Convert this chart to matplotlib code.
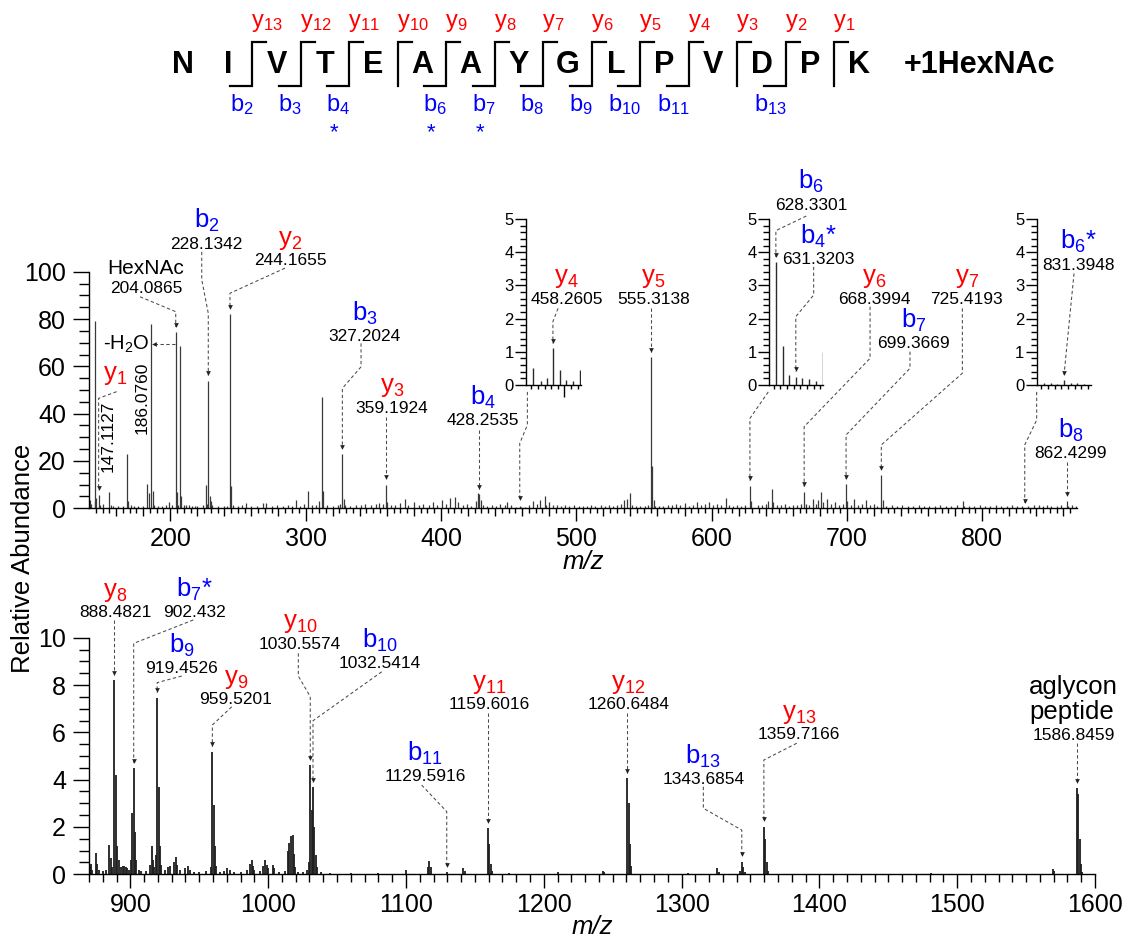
import numpy as np
import matplotlib
matplotlib.use("Agg")
import matplotlib.pyplot as plt
from matplotlib.ticker import MultipleLocator, FixedLocator, NullFormatter
from matplotlib.transforms import offset_copy

plt.rcParams["font.family"] = ["Liberation Sans", "DejaVu Sans"]
plt.rcParams["mathtext.fontset"] = "custom"
plt.rcParams["mathtext.rm"] = "Liberation Sans"
plt.rcParams["mathtext.it"] = "Liberation Sans:italic"
plt.rcParams["mathtext.bf"] = "Liberation Sans:bold"

# ---------------------------------------------------------------- data
sequence = list("NIVTEAAYGLPVDPK")
b_ions = [2, 3, 4, 6, 7, 8, 9, 10, 11, 13]
b_glyco = [4, 6, 7]
y_ions = [1, 2, 3, 4, 5, 6, 7, 8, 9, 10, 11, 12, 13]
glycan_tag = "+1HexNAc"

# low mass range (m/z 140-870), unlabelled peaks
top_mz = [140.5, 141.3, 144.07, 144.6, 145.1, 148.1, 150.5, 155.08, 156.1, 158.0,
          161.1, 165.0, 168.07, 169.07, 171.0, 173.0, 176.0, 180.0, 183.08, 184.08,
          187.08, 188.1, 191.0, 194.0, 197.0, 199.1, 201.1, 205.09, 206.1, 207.1,
          208.1, 210.0, 212.0, 214.0, 216.0, 218.0, 220.0, 224.0, 226.1, 227.1,
          229.13, 230.1, 231.0, 235.0, 240.0, 242.0, 245.17, 246.2, 250.0, 253.0,
          256.0, 260.0, 264.0, 268.3, 271.0, 275.0, 279.0, 283.0, 287.0, 290.0,
          292.7, 296.0, 299.0, 302.1, 305.0, 308.0, 310.2, 312.2, 313.2, 316.0,
          320.0, 324.0, 325.2, 328.2, 329.2, 333.0, 337.0, 341.0, 344.0, 348.0,
          352.0, 354.3, 357.0, 360.2, 363.0, 366.0, 370.0, 373.6, 376.0, 380.0,
          384.0, 387.0, 391.0, 394.0, 397.0, 400.7, 404.0, 407.0, 410.4, 413.0,
          416.0, 419.0, 422.0, 426.2, 427.2, 429.3, 431.0, 434.0, 438.0, 441.0,
          444.0, 447.0, 448.5, 452.0, 455.3, 457.3, 459.26, 460.3, 462.3, 465.0,
          468.4, 471.0, 473.4, 476.6, 478.0, 480.0, 483.0, 486.0, 489.0, 492.0,
          495.0, 498.0, 502.0, 505.0, 508.0, 511.0, 514.0, 518.0, 521.0, 524.0,
          527.0, 530.0, 533.0, 535.3, 537.3, 539.8, 541.0, 544.0, 547.0, 551.0,
          553.0, 556.31, 557.3, 558.3, 561.0, 564.0, 568.0, 571.0, 574.0, 577.0,
          580.0, 583.0, 586.0, 589.0, 592.0, 595.0, 598.0, 601.0, 604.0, 607.0,
          610.3, 613.0, 616.0, 619.0, 622.0, 625.0, 629.33, 631.32, 634.0, 637.0,
          640.0, 642.0, 644.3, 645.6, 648.0, 651.0, 654.0, 657.0, 660.0, 663.0,
          666.0, 669.4, 672.0, 675.0, 677.0, 679.0, 680.8, 682.0, 685.0, 688.0,
          691.0, 694.0, 697.0, 700.4, 703.0, 705.0, 708.0, 711.0, 714.0, 717.0,
          720.0, 722.0, 726.4, 729.0, 733.0, 737.0, 741.0, 745.0, 749.0, 753.0,
          757.0, 761.0, 765.0, 769.0, 773.0, 777.0, 781.0, 785.7, 786.7, 790.0,
          794.0, 798.0, 802.0, 806.0, 810.0, 814.0, 818.0, 822.0, 826.0, 829.0,
          834.0, 838.0, 842.0, 845.0, 848.0, 851.0, 855.0, 858.0, 863.4, 866.0,
          869.0]
top_int = [3.5, 2.0, 79.0, 3.0, 4.5, 1.5, 2.0, 6.8, 1.2, 1.0,
           0.8, 1.0, 23.0, 3.0, 1.2, 0.8, 1.0, 0.8, 10.2, 6.6,
           7.2, 1.5, 1.0, 0.8, 1.2, 2.5, 1.5, 7.0, 1.5, 68.5,
           5.0, 1.5, 1.2, 1.2, 0.8, 1.0, 0.8, 1.2, 9.8, 2.0,
           5.2, 3.0, 1.5, 1.0, 0.8, 1.0, 9.5, 1.2, 0.8, 1.5,
           2.2, 1.0, 0.8, 2.1, 2.3, 1.0, 1.5, 1.0, 1.2, 0.8,
           3.6, 1.0, 2.0, 7.2, 1.2, 1.5, 3.0, 47.2, 7.2, 1.2,
           1.0, 1.2, 2.0, 3.8, 1.5, 1.0, 1.5, 1.2, 2.0, 1.5,
           1.8, 2.4, 2.0, 2.5, 1.2, 1.5, 2.2, 4.0, 1.5, 2.5,
           1.5, 2.0, 1.2, 2.5, 1.5, 3.5, 1.8, 4.2, 4.6, 2.5,
           1.5, 2.0, 1.0, 3.0, 6.6, 3.5, 1.2, 1.0, 1.5, 1.0,
           2.0, 1.2, 2.8, 1.5, 0.5, 0.2, 0.45, 0.15, 0.45, 1.2,
           3.0, 2.0, 3.4, 5.3, 1.5, 2.5, 1.5, 1.2, 1.0, 1.5,
           0.8, 1.2, 1.0, 1.0, 0.8, 1.5, 1.0, 1.2, 0.8, 1.5,
           1.0, 1.2, 2.0, 3.5, 4.0, 6.3, 1.5, 1.0, 0.8, 1.0,
           1.2, 18.0, 3.5, 1.0, 1.0, 0.8, 1.5, 1.2, 2.0, 1.5,
           2.2, 1.0, 1.5, 2.5, 1.2, 1.8, 2.5, 1.2, 2.0, 1.5,
           4.2, 1.5, 1.0, 1.5, 1.0, 1.2, 3.0, 0.3, 1.2, 1.5,
           2.0, 3.0, 8.2, 2.5, 1.5, 1.2, 2.0, 1.0, 1.5, 1.2,
           2.0, 2.0, 1.5, 4.0, 2.0, 3.5, 7.0, 2.5, 4.0, 2.0,
           2.5, 1.5, 2.0, 3.0, 1.5, 4.0, 1.5, 2.0, 3.5, 1.5,
           2.0, 1.0, 3.5, 1.0, 1.2, 0.8, 1.2, 1.0, 1.0, 1.2,
           0.8, 1.0, 0.8, 1.2, 1.0, 0.8, 1.2, 3.0, 1.0, 0.8,
           1.0, 1.5, 0.8, 1.0, 1.5, 1.0, 0.8, 1.2, 1.0, 0.8,
           1.0, 1.2, 1.5, 1.0, 1.5, 0.8, 1.0, 1.2, 1.0, 1.5,
           0.8]

# low mass range, assigned peaks
top_ion_names = ["y1", "-H2O", "HexNAc", "b2", "y2", "b3", "y3", "b4", "y4",
                 "y5", "b6", "y6", "b7", "y7", "b6*", "b8"]
top_ion_mz = ["147.1127", "186.0760", "204.0865", "228.1342", "244.1655",
              "327.2024", "359.1924", "428.2535", "458.2605", "555.3138",
              "628.3301", "668.3994", "699.3669", "725.4193", "831.3948",
              "862.4299"]
top_ion_int = [5.5, 78.0, 74.5, 54.0, 82.2, 23.0, 10.0, 6.0, 1.1,
               64.0, 9.6, 7.0, 10.2, 14.0, 0.2, 3.0]

# high mass range (m/z 870-1600), unlabelled peaks
bot_mz = [870.5, 871.5, 872.5, 875.1, 876.1, 877.0, 880.0, 882.0, 884.8, 885.8,
          887.0, 889.48, 890.5, 891.5, 893.0, 894.5, 895.5, 896.5, 897.5, 899.0,
          900.4, 901.4, 903.4, 904.4, 906.0, 908.0, 911.0, 914.0, 915.5, 916.4,
          917.5, 918.5, 920.45, 921.5, 922.5, 925.0, 927.0, 929.0, 931.5, 933.0,
          934.0, 936.0, 940.0, 941.5, 943.0, 946.0, 950.0, 955.0, 958.5, 960.52,
          961.5, 962.5, 965.0, 968.0, 970.0, 972.0, 975.0, 980.0, 985.0, 987.0,
          988.2, 989.2, 990.0, 994.0, 996.0, 997.9, 999.0, 1000.0, 1003.5, 1004.5,
          1008.0, 1012.0, 1014.4, 1015.4, 1016.6, 1017.8, 1018.8, 1019.8, 1022.0, 1025.0,
          1028.0, 1029.5, 1031.56, 1033.54, 1034.5, 1035.5, 1038.0, 1045.0, 1060.0, 1080.0,
          1100.0, 1116.0, 1116.9, 1117.9, 1141.5, 1142.5, 1160.6, 1161.6, 1162.6, 1175.0,
          1210.0, 1243.0, 1244.0, 1261.65, 1262.65, 1263.6, 1305.0, 1326.0, 1327.0, 1342.7,
          1344.7, 1345.7, 1360.72, 1361.7, 1362.7, 1481.0, 1569.5, 1570.5, 1587.85, 1588.85,
          1589.85, 1590.8]
bot_int = [0.3, 0.45, 0.2, 0.9, 0.45, 0.2, 0.15, 0.2, 1.23, 0.7,
           0.3, 4.2, 1.2, 0.6, 0.3, 0.35, 0.35, 0.3, 0.25, 0.2,
           0.6, 2.6, 1.8, 0.6, 0.2, 0.15, 0.15, 0.4, 1.2, 0.6,
           0.3, 0.8, 3.7, 1.2, 0.4, 0.2, 0.3, 0.35, 0.5, 0.75,
           0.4, 0.2, 0.25, 0.35, 0.2, 0.1, 0.1, 0.15, 0.3, 2.93,
           1.2, 0.35, 0.1, 0.15, 0.25, 0.2, 0.1, 0.1, 0.2, 0.45,
           0.6, 0.35, 0.2, 0.15, 0.35, 0.6, 0.4, 0.25, 0.4, 0.25,
           0.1, 0.15, 1.0, 1.31, 1.6, 1.65, 0.85, 0.3, 0.1, 0.1,
           0.2, 0.5, 2.7, 2.0, 0.8, 0.3, 0.1, 0.05, 0.05, 0.05,
           0.2, 0.3, 0.55, 0.3, 0.25, 0.15, 1.3, 0.45, 0.15, 0.05,
           0.1, 0.15, 0.08, 3.0, 1.3, 0.35, 0.05, 0.25, 0.1, 0.15,
           0.3, 0.1, 1.5, 0.5, 0.15, 0.05, 0.21, 0.12, 3.4, 1.5,
           0.45, 0.1]

# high mass range, assigned peaks
bot_ion_names = ["y8", "b7*", "b9", "y9", "y10", "b10", "b11", "y11", "y12",
                 "b13", "y13", "aglycon"]
bot_ion_mz = ["888.4821", "902.432", "919.4526", "959.5201", "1030.5574",
              "1032.5414", "1129.5916", "1159.6016", "1260.6484", "1343.6854",
              "1359.7166", "1586.8459"]
bot_ion_int = [8.2, 4.5, 7.46, 5.18, 4.62, 3.67, 0.1, 1.95, 4.06, 0.53, 2.01, 3.63]

# expanded windows (0-5 % scale)
inset_ranges = [(454.2, 462.5), (627.3, 635.4), (827.3, 835.4)]
inset1_mz = [455.3, 456.4, 457.3, 458.2605, 459.26, 460.3, 461.3, 462.4]
inset1_int = [0.5, 0.12, 0.22, 1.1, 0.45, 0.15, 0.12, 0.45]
inset2_mz = [628.3301, 629.33, 630.33, 631.3203, 632.3, 633.3, 634.3, 635.33]
inset2_int = [3.7, 1.17, 0.3, 0.25, 0.2, 0.18, 0.12, 1.0]
inset3_mz = [828.4, 829.4, 830.4, 831.3948, 832.4, 833.4, 834.4]
inset3_int = [0.05, 0.06, 0.04, 0.15, 0.06, 0.05, 0.04]
inset_ions = [[("y4", "458.2605")],
              [("b6", "628.3301"), ("b4*", "631.3203")],
              [("b6*", "831.3948")]]

# ---------------------------------------------------------------- styles
RED = "#ff0000"
BLUE = "#0000ff"
LEAD = "#4a4a4a"
ION_FS = 18.5
VAL_FS = 12.5
TICK_FS = 18
HDR_FS = 17

W, H = 1130, 942
fig = plt.figure(figsize=(W / 100, H / 100), dpi=100)
fig.patch.set_facecolor("white")


def box(left, top, right, bottom):
    return [left / W, 1 - bottom / H, (right - left) / W, (bottom - top) / H]


page = fig.add_axes([0, 0, 1, 1], zorder=-5)
page.set_xlim(0, W)
page.set_ylim(H, 0)
page.axis("off")

ax_top = fig.add_axes(box(89, 271.7, 1077, 508.3))
ax_bot = fig.add_axes(box(89, 637.7, 1095, 874.3))
insets = [fig.add_axes(box(526, 219, 581, 385)),
          fig.add_axes(box(769, 219, 823, 385)),
          fig.add_axes(box(1036.7, 219, 1090.7, 385))]


def plain(ax):
    ax.patch.set_visible(False)
    for s in ("top", "right"):
        ax.spines[s].set_visible(False)
    for s in ("left", "bottom"):
        ax.spines[s].set_linewidth(1.0)


def ion_tex(name):
    kind, rest = name[0], name[1:]
    star = rest.endswith("*")
    return r"$\mathregular{%s_{%s}}$" % (kind, rest.rstrip("*")) + ("*" if star else "")


def ion_color(name):
    return BLUE if name[0] == "b" else RED


def leader(ax, path, x_peak, h_peak):
    ppu = ax.get_position().height * H / (ax.get_ylim()[1] - ax.get_ylim()[0])
    tip = h_peak + 5.0 / ppu
    xs = [x_peak if p[0] is None else p[0] for p in path] + [x_peak]
    ys = [p[1] for p in path] + [tip]
    ax.plot(xs, ys, color=LEAD, lw=0.75, ls=(0, (3.2, 2.4)), clip_on=False, zorder=4)
    head = offset_copy(ax.transData, fig=fig, x=0, y=2.3, units="dots")
    ax.plot([x_peak], [tip], marker="v", ms=3.4, color="#222222", mew=0,
            transform=head, clip_on=False, zorder=5)


def label(ax, name, value, at):
    ax.text(at[0], at[1], value, ha="center", va="center", fontsize=VAL_FS, zorder=6)
    ax.annotate(ion_tex(name), xy=at, xytext=(0, 16), textcoords="offset pixels",
                ha="center", va="baseline", fontsize=ION_FS, color=ion_color(name),
                annotation_clip=False, zorder=6)


# ---------------------------------------------------------------- header
seq_x = [183] + [228 + 48.5 * i for i in range(len(sequence) - 1)]
for ch, x in zip(sequence, seq_x):
    page.text(x, 73, ch, ha="center", va="baseline", fontsize=22, fontweight="bold")
page.text(904, 73, glycan_tag, ha="left", va="baseline", fontsize=22, fontweight="bold")

n_res = len(sequence)
for k in range(1, n_res):
    has_b = k in b_ions
    has_y = (n_res - k) in y_ions
    if not (has_b or has_y):
        continue
    cx = (seq_x[k - 1] + seq_x[k]) / 2
    xs, ys = [cx, cx], [86, 41.5]
    if has_b:
        xs, ys = [cx - 22] + xs, [86] + ys
        page.text(cx + 1, 111, ion_tex("b%d" % k), ha="right", va="baseline",
                  fontsize=HDR_FS, color=BLUE)
        if k in b_glyco:
            page.text(cx - 15, 138, "*", ha="center", va="baseline", fontsize=16, color=BLUE)
    if has_y:
        xs, ys = xs + [cx + 14], ys + [41.5]
        page.text(cx - 1, 27.5, ion_tex("y%d" % (n_res - k)), ha="left", va="baseline",
                  fontsize=HDR_FS, color=RED)
    page.plot(xs, ys, color="black", lw=1.6, solid_joinstyle="miter")

# ---------------------------------------------------------------- spectra
plain(ax_top)
top_all_mz = np.r_[top_mz, [float(v) for v in top_ion_mz]]
top_all_int = np.r_[top_int, top_ion_int]
ax_top.vlines(top_all_mz, 0, top_all_int, colors="#3a3a3a", lw=0.9)
ax_top.set_xlim(140, 870)
ax_top.set_ylim(0, 100)
ax_top.xaxis.set_major_locator(MultipleLocator(100))
ax_top.xaxis.set_minor_locator(FixedLocator([v for v in range(160, 870, 20) if v % 100]))
ax_top.yaxis.set_major_locator(MultipleLocator(20))
ax_top.yaxis.set_minor_locator(MultipleLocator(5))
ax_top.tick_params(axis="x", which="major", length=9.5, width=1.0, pad=4, labelsize=TICK_FS)
ax_top.tick_params(axis="x", which="minor", length=5.8, width=1.0)
ax_top.tick_params(axis="y", which="major", length=11.5, width=1.0, pad=5, labelsize=TICK_FS)
ax_top.tick_params(axis="y", which="minor", length=7, width=1.0)
small = [v for v in range(145, 870, 5) if v % 20]
ax_top.vlines(small, 0, -4.2 / 236.6, colors="black", lw=1.0,
              transform=ax_top.get_xaxis_transform(), clip_on=False)

plain(ax_bot)
bot_all_mz = np.r_[bot_mz, [float(v) for v in bot_ion_mz]]
bot_all_int = np.r_[bot_int, bot_ion_int]
ax_bot.vlines(bot_all_mz, 0, bot_all_int, colors="#1e1e1e", lw=1.3)
ax_bot.set_xlim(870, 1600)
ax_bot.set_ylim(0, 10)
ax_bot.xaxis.set_major_locator(MultipleLocator(100))
ax_bot.xaxis.set_minor_locator(MultipleLocator(10))
ax_bot.yaxis.set_major_locator(MultipleLocator(2))
ax_bot.yaxis.set_minor_locator(MultipleLocator(0.5))
ax_bot.tick_params(axis="x", which="major", length=10, width=1.0, pad=3.5, labelsize=TICK_FS)
ax_bot.tick_params(axis="x", which="minor", length=6, width=1.0)
ax_bot.tick_params(axis="y", which="major", length=11.5, width=1.0, pad=5, labelsize=TICK_FS)
ax_bot.tick_params(axis="y", which="minor", length=7, width=1.0)

inset_data = [(inset1_mz, inset1_int), (inset2_mz, inset2_int), (inset3_mz, inset3_int)]
for ax, (mz, inten), rng in zip(insets, inset_data, inset_ranges):
    plain(ax)
    ax.vlines(mz, 0, inten, colors="#2a2a2a", lw=1.0)
    ax.set_xlim(*rng)
    ax.set_ylim(0, 5)
    ax.yaxis.set_major_locator(MultipleLocator(1))
    ax.yaxis.set_minor_locator(MultipleLocator(0.2))
    ax.xaxis.set_minor_locator(MultipleLocator(1))
    ax.xaxis.set_major_formatter(NullFormatter())
    ax.tick_params(axis="y", which="major", length=8, width=1.0, pad=0.8, labelsize=12)
    ax.tick_params(axis="y", which="minor", length=4.3, width=1.0)
    ax.tick_params(axis="x", which="major", length=8.5, width=1.0)
    ax.tick_params(axis="x", which="minor", length=3, width=1.0)
insets[0].xaxis.set_major_locator(FixedLocator([460]))
insets[1].xaxis.set_major_locator(FixedLocator([]))
insets[2].xaxis.set_major_locator(FixedLocator([]))

# ---------------------------------------------------------------- annotations
top_h = dict(zip(top_ion_mz, top_ion_int))
top_n = dict(zip(top_ion_names, top_ion_mz))

top_layout = {
    "b2": dict(at=(227.0, 111.7), path=[(223.3, 108.4), (223.3, 96.6), (None, 82.4)]),
    "y2": dict(at=(288.5, 104.6), path=[(284.8, 101.5), (None, 90.9)]),
    "b3": dict(at=(343.9, 72.5), path=[(341.0, 69.7), (341.0, 59.8), (None, 50.7)]),
    "y3": dict(at=(363.7, 42.3), path=[(None, 38.7)]),
    "b4": dict(at=(430.9, 36.9), path=[(None, 33.1)]),
    "y5": dict(at=(557.0, 88.3), path=[(None, 84.5)]),
    "y6": dict(at=(720.0, 88.3), path=[(717.1, 85.2), (717.1, 63.4), (None, 34.5)]),
    "b7": dict(at=(749.1, 69.7), path=[(746.6, 66.2), (746.6, 59.2), (None, 31.0)]),
    "y7": dict(at=(788.5, 88.3), path=[(785.3, 84.5), (785.3, 57.1), (None, 26.8)]),
    "b8": dict(at=(865.4, 23.2), path=[(None, 19.7)]),
}
for name, lay in top_layout.items():
    v = top_n[name]
    label(ax_top, name, v, lay["at"])
    leader(ax_top, lay["path"], float(v), top_h[v])

# y1 with rotated value
v = top_n["y1"]
ax_top.text(159.2, 54.2, ion_tex("y1"), ha="center", va="baseline", fontsize=ION_FS, color=RED)
ax_top.text(154.3, 30.6, v, rotation=90, ha="center", va="center", fontsize=VAL_FS)
leader(ax_top, [(160.4, 49.3), (None, 46.5)], float(v), top_h[v])

# oxonium ion and its water loss
v = top_n["HexNAc"]
ax_top.text(182.1, 101.4, "HexNAc", ha="center", va="center", fontsize=15)
ax_top.text(182.1, 93.0, v, ha="center", va="center", fontsize=VAL_FS)
leader(ax_top, [(177.7, 89.4), (None, 83.1)], float(v), top_h[v])

w = top_n["-H2O"]
ax_top.text(178.9, 46.5, w, rotation=90, ha="center", va="center", fontsize=VAL_FS)
ax_top.text(184.6, 69.3, r"-H$_\mathregular{2}$O", ha="right", va="center", fontsize=14.5)
ax_top.plot([float(v) - 0.8, float(w) + 1.2], [69.3, 69.3], color=LEAD, lw=0.75,
            ls=(0, (3.2, 2.4)), clip_on=False)
ax_top.plot([float(w)], [69.3], marker="<", ms=3.4, color="#222222", mew=0,
            transform=offset_copy(ax_top.transData, fig=fig, x=2.3, y=0, units="dots"),
            clip_on=False)

# expanded windows: labels inside, and links down to the main trace
inset_layout = {
    "y4": dict(at=(460.3, 2.58), path=[(459.04, 2.31), (None, 1.91)]),
    "b6": dict(at=(633.6, 5.42), path=[(632.9, 5.09), (None, 4.65)]),
    "b4*": dict(at=(634.7, 3.77), path=[(634.0, 3.56), (634.0, 2.71), (None, 2.06)]),
    "b6*": dict(at=(833.5, 3.61), path=[(832.9, 3.36)]),
}
for ax, (mz, inten), ions in zip(insets, inset_data, inset_ions):
    hmap = dict(zip(mz, inten))
    for name, v in ions:
        lay = inset_layout[name]
        label(ax, name, v, lay["at"])
        leader(ax, lay["path"], float(v), hmap[float(v)])

link_layout = {
    "y4": [(463.9, 49.2), (463.9, 35.2), (None, 27.5)],
    "b6": [(641.9, 49.2), (None, 38.0)],
    "b6*": [(840.2, 49.2), (840.2, 37.3), (None, 26.8)],
}
for name, path in link_layout.items():
    v = top_n[name]
    leader(ax_top, path, float(v), top_h[v])

bot_h = dict(zip(bot_ion_mz, bot_ion_int))
bot_n = dict(zip(bot_ion_names, bot_ion_mz))
bot_layout = {
    "y8": dict(at=(888.9, 11.06), path=[(None, 10.75)]),
    "b7*": dict(at=(946.4, 11.06), path=[(945.7, 10.75), (None, 9.76)]),
    "b9": dict(at=(937.3, 8.68), path=[(937.3, 8.38), (None, 8.10)]),
    "y9": dict(at=(976.7, 7.37), path=[(973.6, 7.08), (None, 6.31)]),
    "y10": dict(at=(1023.1, 9.73), path=[(1021.9, 9.34), (1021.9, 8.38), (None, 7.51)]),
    "b10": dict(at=(1081.2, 8.89), path=[(1082.4, 8.56), (None, 6.49)]),
    "b11": dict(at=(1113.8, 4.13), path=[(1111.4, 3.77), (None, 2.65)]),
    "y11": dict(at=(1160.5, 7.16), path=[(None, 6.80)]),
    "y12": dict(at=(1261.4, 7.16), path=[(None, 6.80)]),
    "b13": dict(at=(1315.8, 3.99), path=[(1315.8, 3.70), (1315.8, 2.79), (None, 1.87)]),
    "y13": dict(at=(1385.1, 5.89), path=[(1383.6, 5.54), (None, 4.83)]),
}
for name, lay in bot_layout.items():
    v = bot_n[name]
    label(ax_bot, name, v, lay["at"])
    leader(ax_bot, lay["path"], float(v), bot_h[v])

v = bot_n["aglycon"]
ax_bot.text(1584.3, 7.93, "aglycon", ha="center", va="center", fontsize=ION_FS)
ax_bot.text(1583.1, 6.87, "peptide", ha="center", va="center", fontsize=ION_FS)
ax_bot.text(1584.8, 5.86, v, ha="center", va="center", fontsize=VAL_FS)
leader(ax_bot, [(None, 5.54)], float(v), bot_h[v])

# ---------------------------------------------------------------- axis titles
page.text(23, 558, "Relative Abundance", rotation=90, ha="center", va="center", fontsize=18.5)
page.text(583, 562, "m/z", style="italic", ha="center", va="center", fontsize=18.5)
page.text(592, 927, "m/z", style="italic", ha="center", va="center", fontsize=18.5)

fig.savefig("out.png", dpi=100)
